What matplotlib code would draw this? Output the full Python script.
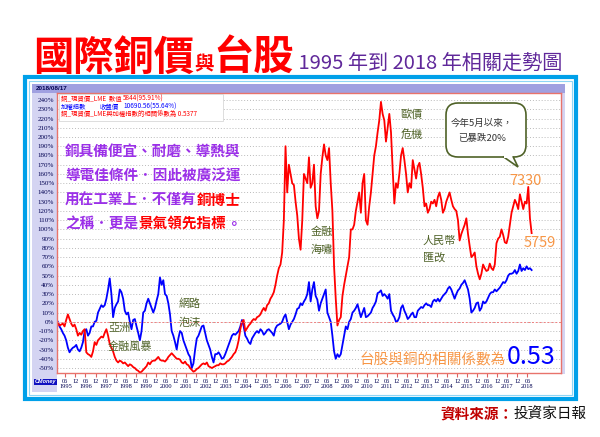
import numpy as np
import pandas as pd
import matplotlib
matplotlib.use("Agg")
import matplotlib.pyplot as plt
from matplotlib.patches import Rectangle, FancyBboxPatch, Polygon

plt.rcParams['font.family'] = ['Noto Sans CJK TC', 'DejaVu Sans']

W, H = 600, 437

# monthly % change vs. Jan 1995, 1995-01 .. 2018-08
copper_pct = [
    -1, -4, -3, -2, -5, 2, 8, 3, -2, -5, -3, -8,               # 1995
    -15, -12, -14, -10, -8, -33, -35, -36, -38, -32, -22, -25,  # 1996
    -20, -18, -16, -17, -12, -8, -15, -24, -28, -32, -38, -42,  # 1997
    -44, -42, -43, -45, -44, -46, -48, -46, -47, -49, -50, -52,  # 1998
    -53, -55, -54, -52, -50, -48, -44, -46, -43, -42, -42, -40,  # 1999
    -38, -41, -42, -42, -43, -41, -38, -36, -34, -36, -38, -40,  # 2000
    -40, -41, -44, -45, -43, -46, -47, -50, -52, -54, -53, -51,  # 2001
    -50, -48, -46, -45, -46, -44, -48, -49, -50, -49, -48, -47,  # 2002
    -47, -45, -46, -46, -45, -43, -42, -40, -38, -35, -33, -28,  # 2003
    -20, -8, 0, 2, -10, -7, -4, -2, 1, 3, 2, 5,                  # 2004
    6, 8, 12, 15, 12, 18, 20, 25, 28, 32, 40, 50,                # 2005
    58, 62, 75, 110, 190, 140, 170, 160, 150, 148, 130, 115,     # 2006
    90, 78, 110, 160, 155, 150, 178, 145, 150, 170, 125, 112,    # 2007
    120, 160, 178, 192, 180, 175, 188, 150, 120, 60, 25, -4,     # 2008
    2, 5, 28, 40, 50, 60, 70, 100, 100, 105, 120, 130,           # 2009
    140, 118, 150, 160, 110, 105, 125, 140, 160, 180, 190, 205,  # 2010
    218, 238, 225, 218, 195, 210, 225, 205, 165, 128, 150, 145,  # 2011
    160, 180, 188, 175, 160, 140, 150, 145, 175, 165, 155, 168,  # 2012
    172, 160, 145, 125, 128, 118, 122, 130, 128, 132, 125, 135,  # 2013
    140, 132, 118, 122, 130, 135, 140, 132, 125, 122, 120, 110,  # 2014
    88, 95, 100, 105, 112, 95, 82, 70, 72, 75, 60, 52,           # 2015
    46, 52, 62, 58, 55, 56, 63, 58, 56, 62, 85, 90,              # 2016
    92, 100, 94, 86, 85, 92, 105, 118, 125, 132, 128, 122,       # 2017
    138, 130, 122, 130, 128, 146, 112, 96,                       # 2018
]
taiex_pct = [
    0, -5, -8, -12, -15, -20, -28, -33, -30, -28, -27, -25,      # 1995
    -30, -32, -28, -22, -10, -8, -15, -12, -5, -5, 0, 1,         # 1996
    10, 14, 18, 16, 18, 25, 35, 47, 30, 5, 15, 19,               # 1997
    22, 35, 32, 25, 12, 8, 10, 0, -8, 2, 3, -5,                  # 1998
    -12, -20, -10, 10, 12, 20, 25, 20, 15, 10, 15, 23,           # 1999
    30, 48, 40, 45, 30, 28, 20, 8, -10, -15, -22, -30,           # 2000
    -18, -10, -12, -20, -25, -30, -35, -38, -50, -45, -30, -18,  # 2001
    -15, -10, -5, -4, -12, -20, -25, -30, -38, -44, -35, -35,    # 2002
    -33, -36, -40, -39, -35, -30, -25, -20, -15, -13, -14, -12,  # 2003
    -10, -5, 2, -5, -15, -18, -22, -24, -18, -15, -12, -10,      # 2004
    -12, -8, -10, -14, -12, -9, -8, -10, -12, -15, -7, -4,       # 2005
    -3, -2, 0, 5, 8, 0, -8, -3, 0, 3, 8, 14,                     # 2006
    15, 20, 18, 22, 25, 30, 43, 22, 35, 43, 28, 24,              # 2007
    12, 20, 25, 30, 35, 10, 5, 0, -15, -32, -40, -35,            # 2008
    -38, -35, -25, -15, -5, -8, 0, 3, 10, 12, 15, 19,            # 2009
    12, 5, 10, 15, 5, 6, 8, 10, 15, 18, 22, 31,                  # 2010
    32, 34, 28, 30, 28, 25, 30, 12, 8, 5, 0, 1,                  # 2011
    5, 15, 18, 12, 8, 3, 5, 8, 10, 5, 5, 12,                     # 2012
    14, 16, 15, 18, 20, 18, 18, 16, 22, 24, 22, 25,              # 2013
    22, 25, 28, 30, 32, 36, 38, 35, 30, 25, 30, 34,              # 2014
    36, 40, 42, 45, 40, 35, 25, 10, 12, 15, 20, 21,              # 2015
    12, 15, 22, 20, 22, 26, 30, 32, 32, 35, 33, 35,              # 2016
    37, 40, 43, 42, 45, 50, 52, 52, 53, 56, 52, 55,              # 2017
    62, 55, 58, 56, 60, 57, 58, 56,                              # 2018
]

months = pd.date_range('1995-01-01', periods=len(copper_pct), freq='MS')
t = months.year + (months.month - 0.5) / 12

y_ticks = list(range(-50, 250, 10))
tick_years = list(range(1995, 2019))

fig = plt.figure(figsize=(W / 100, H / 100), dpi=100)
fig.patch.set_facecolor('white')


def px_axes(x0, y0, x1, y1):
    return [x0 / W, 1 - y1 / H, (x1 - x0) / W, (y1 - y0) / H]


# background frame
bg = fig.add_axes([0, 0, 1, 1], zorder=0)
bg.set_xlim(0, W)
bg.set_ylim(H, 0)
bg.axis('off')
bg.add_patch(Rectangle((25, 77), 551, 322, fill=False, ec='#00A0E9', lw=3))
bg.add_patch(Rectangle((29, 81), 543, 314, fill=False, ec='#8ED6F5', lw=0.8))
bg.add_patch(Rectangle((32, 84), 533, 308, fc='#D4D4F2', ec='none'))
bg.add_patch(Rectangle((32, 84), 533, 9, fc='#A0A0E0', ec='none'))
bg.add_patch(Rectangle((57, 374), 508, 18, fc='white', ec='none'))

# main chart
PLOT_L, PLOT_R = 57, 561
ax = fig.add_axes(px_axes(PLOT_L, 93, PLOT_R, 373), zorder=1)
ax.set_facecolor('white')
ax.plot(t, taiex_pct, color='#0000FF', lw=1.3)
ax.plot(t, copper_pct, color='#FF0000', lw=1.3)
ax.axhline(0, color='#F08080', lw=0.7, ls=(0, (2, 2)))
ax.set_xlim(1995.0, 1995.0 + (PLOT_R - PLOT_L) / 20.09)
ax.set_ylim(-55.4, 247.6)
ax.set_yticks(y_ticks)
ax.set_yticklabels([f'{v}%' for v in y_ticks], fontsize=5, family='Liberation Serif', color='#000050')
ax.yaxis.grid(True, color='#BBBBBB', lw=0.7, ls=(0, (1, 2)))
ax.tick_params(axis='y', length=0, pad=2)

xt, xl = [], []
for yr in tick_years:
    xt.append(yr + 5 / 12)
    xl.append(f'06\n{yr}')
    if yr < 2018:
        xt.append(yr + 11 / 12)
        xl.append('12')
ax.set_xticks(xt)
ax.set_xticklabels(xl, fontsize=4.6, family='Liberation Serif', color='#000050', linespacing=0.9, va='top')
ax.tick_params(axis='x', length=3, color='#E06060', pad=1.5)
for s in ax.spines.values():
    s.set_color('#E8736B')
    s.set_linewidth(1.0)

# overlay for text and call-outs
ov = fig.add_axes([0, 0, 1, 1], zorder=3)
ov.set_xlim(0, W)
ov.set_ylim(H, 0)
ov.axis('off')
ov.patch.set_visible(False)

renderer = fig.canvas.get_renderer()


def pieces(x, y, parts, va='baseline'):
    for s, c, size, weight in parts:
        txt = ov.text(x, y, s, color=c, fontsize=size, fontweight=weight, va=va, ha='left')
        x += txt.get_window_extent(renderer).width
    return x


# title
pieces(33, 70, [('國際銅價', '#FF0000', 29, 'black'),
                ('與', '#FF0000', 14, 'bold'),
                ('台股', '#FF0000', 29, 'black'),
                (' 1995 年到 2018 年相關走勢圖', '#60289A', 14.5, 'normal')])

# header bar date and logo
ov.text(36, 88.5, '2018/08/17', fontsize=4.5, color='#000050', fontweight='bold',
        family='Liberation Sans', va='center')
ov.text(35, 382, 'CMoney', fontsize=4, color='white', fontweight='bold', va='center',
        family='Liberation Sans', style='italic',
        bbox=dict(boxstyle='square,pad=0.15', fc='#1010C0', ec='none'))

# legend box
ov.add_patch(Rectangle((59, 94), 164, 27, fc='white', ec='#D0D0D0', lw=0.5))
ov.text(61, 99, '銅_現貨價_LME  數值', fontsize=4.6, color='#FF0000', va='center')
ov.text(123, 99, '5844(95.91%)', fontsize=4.6, color='#FF0000', va='center')
ov.text(61, 106.5, '加權指數', fontsize=4.6, color='#0000FF', va='center')
ov.text(100, 106.5, '收盤價', fontsize=4.6, color='#0000FF', va='center')
ov.text(123, 106.5, '10690.56(55.64%)', fontsize=4.6, color='#0000FF', va='center')
ov.text(61, 114, '銅_現貨價_LME與加權指數的相關係數為 0.5377', fontsize=4.6, color='#FF0000', va='center')

# description text
purple, red = '#9B30E8', '#FF0000'
fs = 10.5
pieces(65, 152, [('銅具備便宜、耐磨、導熱與', purple, fs, 'bold')], va='center')
pieces(65, 176, [('導電佳條件．因此被廣泛運', purple, fs, 'bold')], va='center')
pieces(65, 200, [('用在工業上．不僅有', purple, fs, 'bold'), ('銅博士', red, fs, 'bold')], va='center')
pieces(65, 224, [('之稱．更是', purple, fs, 'bold'), ('景氣領先指標', red, fs, 'bold'),
                 ('。', purple, fs, 'bold')], va='center')

# event labels
olive = '#4F6228'
events = [(108, 328, '亞洲'), (108, 347, '金融風暴'), (179, 304, '網路'), (179, 323, '泡沫'),
          (311, 232, '金融'), (311, 250, '海嘯'), (401, 115, '歐債'), (401, 134, '危機'),
          (423, 241, '人民幣'), (423, 257, '匯改')]
for ex, ey, s in events:
    ov.text(ex, ey, s, fontsize=8, color=olive, va='center', ha='left')

# speech bubble
ov.add_patch(FancyBboxPatch((446, 103), 80, 54, boxstyle='round,pad=0,rounding_size=12',
                            fc='white', ec=olive, lw=1.2))
ov.add_patch(Polygon([(503, 156.5), (518, 167), (513, 156.5)], closed=False,
                     fc='white', ec=olive, lw=1.2))
ov.add_patch(Rectangle((503.8, 154), 8.6, 3.5, fc='white', ec='none'))
ov.text(482, 123, '今年5月以來，', fontsize=6.8, color='#333333', ha='center', va='center')
ov.text(482, 139, '已暴跌20%', fontsize=6.8, color='#333333', ha='center', va='center')

orange = '#F79646'
ov.text(509, 181, '7330', fontsize=10.5, color=orange, va='center')
ov.text(524, 243, '5759', fontsize=10.5, color=orange, va='center')

# correlation
x_end = pieces(360, 364, [('台股與銅的相關係數為', orange, 10.5, 'normal')])
ov.text(x_end, 364, '0.53', fontsize=18, color='#0000FF', va='baseline', ha='left')

# source
pieces(440, 419, [('資料來源：', '#C00000', 10.5, 'bold'), ('投資家日報', '#111111', 10.5, 'normal')])

fig.savefig('out.png', dpi=100)
